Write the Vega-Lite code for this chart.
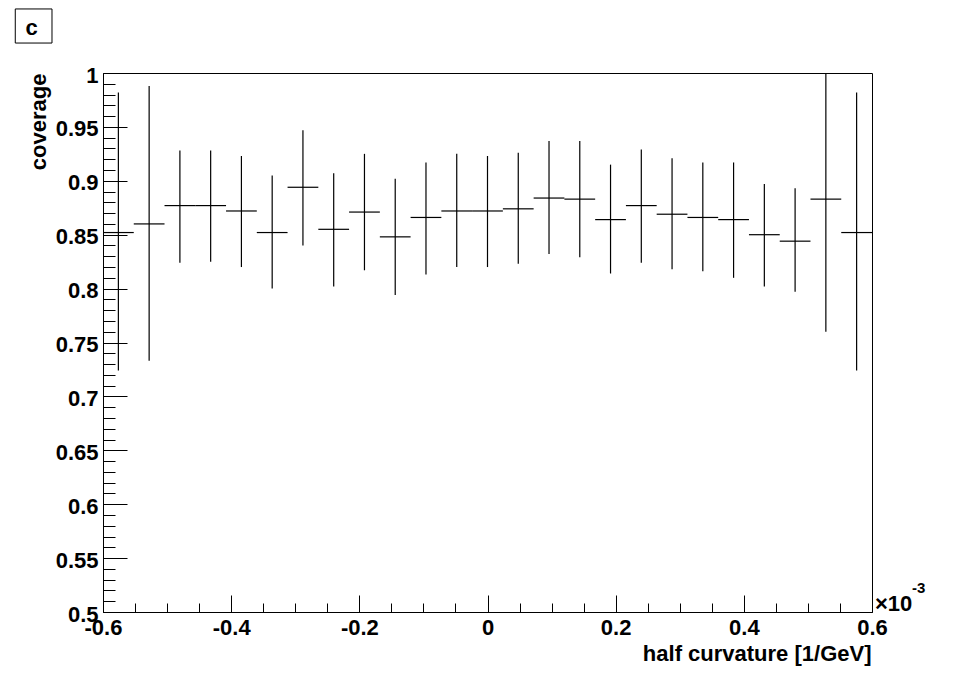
{
  "$schema": "https://vega.github.io/schema/vega-lite/v6.json",
  "width": 769,
  "height": 539,
  "autosize": {"type": "none"},
  "padding": {"left": 103, "top": 73, "right": 82, "bottom": 63},
  "background": "white",
  "config": {"view": {"stroke": "#000", "strokeWidth": 1}, "font": "Liberation Sans"},
  "data": {"values": [
    {"x": -0.576, "x0": -0.6, "x1": -0.552, "y": 0.852, "lo": 0.724, "hi": 0.982},
    {"x": -0.528, "x0": -0.552, "x1": -0.504, "y": 0.860, "lo": 0.733, "hi": 0.988},
    {"x": -0.48, "x0": -0.504, "x1": -0.456, "y": 0.877, "lo": 0.824, "hi": 0.928},
    {"x": -0.432, "x0": -0.456, "x1": -0.408, "y": 0.877, "lo": 0.825, "hi": 0.928},
    {"x": -0.384, "x0": -0.408, "x1": -0.36, "y": 0.872, "lo": 0.820, "hi": 0.923},
    {"x": -0.336, "x0": -0.36, "x1": -0.312, "y": 0.852, "lo": 0.800, "hi": 0.905},
    {"x": -0.288, "x0": -0.312, "x1": -0.264, "y": 0.894, "lo": 0.840, "hi": 0.947},
    {"x": -0.24, "x0": -0.264, "x1": -0.216, "y": 0.855, "lo": 0.802, "hi": 0.907},
    {"x": -0.192, "x0": -0.216, "x1": -0.168, "y": 0.871, "lo": 0.817, "hi": 0.925},
    {"x": -0.144, "x0": -0.168, "x1": -0.12, "y": 0.848, "lo": 0.794, "hi": 0.902},
    {"x": -0.096, "x0": -0.12, "x1": -0.072, "y": 0.866, "lo": 0.813, "hi": 0.917},
    {"x": -0.048, "x0": -0.072, "x1": -0.024, "y": 0.872, "lo": 0.820, "hi": 0.925},
    {"x": 0, "x0": -0.024, "x1": 0.024, "y": 0.872, "lo": 0.820, "hi": 0.923},
    {"x": 0.048, "x0": 0.024, "x1": 0.072, "y": 0.874, "lo": 0.823, "hi": 0.926},
    {"x": 0.096, "x0": 0.072, "x1": 0.12, "y": 0.884, "lo": 0.832, "hi": 0.937},
    {"x": 0.144, "x0": 0.12, "x1": 0.168, "y": 0.883, "lo": 0.829, "hi": 0.937},
    {"x": 0.192, "x0": 0.168, "x1": 0.216, "y": 0.864, "lo": 0.814, "hi": 0.915},
    {"x": 0.24, "x0": 0.216, "x1": 0.264, "y": 0.877, "lo": 0.824, "hi": 0.929},
    {"x": 0.288, "x0": 0.264, "x1": 0.312, "y": 0.869, "lo": 0.818, "hi": 0.921},
    {"x": 0.336, "x0": 0.312, "x1": 0.36, "y": 0.866, "lo": 0.816, "hi": 0.917},
    {"x": 0.384, "x0": 0.36, "x1": 0.408, "y": 0.864, "lo": 0.810, "hi": 0.917},
    {"x": 0.432, "x0": 0.408, "x1": 0.456, "y": 0.850, "lo": 0.802, "hi": 0.897},
    {"x": 0.48, "x0": 0.456, "x1": 0.504, "y": 0.844, "lo": 0.797, "hi": 0.893},
    {"x": 0.528, "x0": 0.504, "x1": 0.552, "y": 0.883, "lo": 0.760, "hi": 1.0},
    {"x": 0.576, "x0": 0.552, "x1": 0.6, "y": 0.852, "lo": 0.724, "hi": 0.982}
  ]},
  "resolve": {"axis": {"x": "independent", "y": "independent"}},
  "layer": [
    {
      "mark": {"type": "rule", "color": "#000", "strokeWidth": 1.2},
      "encoding": {
        "x": {
          "field": "x", "type": "quantitative",
          "scale": {"domain": [-0.6, 0.6], "nice": false, "zero": false},
          "axis": {
            "orient": "bottom",
            "values": [-0.6, -0.4, -0.2, 0, 0.2, 0.4, 0.6],
            "grid": false,
            "domain": true, "domainColor": "#000", "domainWidth": 1,
            "ticks": true, "tickSize": -17, "tickColor": "#000", "tickWidth": 1,
            "labelPadding": 22, "labelFontSize": 22, "labelFontWeight": "bold",
            "labelFont": "Liberation Sans", "labelColor": "#000",
            "labelFlush": false, "labelOverlap": false, "labelBaseline": "top",
            "labelExpr": "'' + datum.value",
            "title": "half curvature [1/GeV]",
            "titleFont": "Liberation Sans", "titleFontSize": 22, "titleFontWeight": "bold",
            "titleColor": "#000", "titleAlign": "right", "titleBaseline": "alphabetic",
            "titleX": 768, "titleY": 48
          }
        },
        "y": {
          "field": "lo", "type": "quantitative",
          "scale": {"domain": [0.5, 1], "nice": false, "zero": false},
          "axis": {
            "orient": "left",
            "values": [0.5, 0.55, 0.6, 0.65, 0.7, 0.75, 0.8, 0.85, 0.9, 0.95, 1],
            "grid": false,
            "domain": true, "domainColor": "#000", "domainWidth": 1,
            "ticks": true, "tickSize": -24, "tickColor": "#000", "tickWidth": 1,
            "labelPadding": 29, "labelFontSize": 22, "labelFontWeight": "bold",
            "labelFont": "Liberation Sans", "labelColor": "#000",
            "labelFlush": false, "labelOverlap": false, "labelBaseline": "middle",
            "labelAlign": "right", "labelOffset": 2,
            "labelExpr": "'' + datum.value",
            "title": "coverage",
            "titleFont": "Liberation Sans", "titleFontSize": 22, "titleFontWeight": "bold",
            "titleColor": "#000", "titleAngle": -90, "titleAlign": "right",
            "titleBaseline": "alphabetic", "titleX": -58, "titleY": 0
          }
        },
        "y2": {"field": "hi"}
      }
    },
    {
      "mark": {"type": "rule", "color": "#000", "strokeWidth": 1.2},
      "encoding": {
        "x": {
          "field": "x0", "type": "quantitative",
          "axis": {
            "orient": "bottom",
            "values": [-0.55, -0.5, -0.45, -0.35, -0.3, -0.25, -0.15, -0.1, -0.05, 0.05, 0.1, 0.15, 0.25, 0.3, 0.35, 0.45, 0.5, 0.55],
            "grid": false, "domain": false, "labels": false, "title": null,
            "ticks": true, "tickSize": -9, "tickColor": "#000", "tickWidth": 1
          }
        },
        "x2": {"field": "x1"},
        "y": {
          "field": "y", "type": "quantitative",
          "axis": {
            "orient": "left",
            "values": [0.51, 0.52, 0.53, 0.54, 0.56, 0.57, 0.58, 0.59, 0.61, 0.62, 0.63, 0.64, 0.66, 0.67, 0.68, 0.69, 0.71, 0.72, 0.73, 0.74, 0.76, 0.77, 0.78, 0.79, 0.81, 0.82, 0.83, 0.84, 0.86, 0.87, 0.88, 0.89, 0.91, 0.92, 0.93, 0.94, 0.96, 0.97, 0.98, 0.99],
            "grid": false, "domain": false, "labels": false, "title": null,
            "ticks": true, "tickSize": -12, "tickColor": "#000", "tickWidth": 1
          }
        }
      }
    },
    {
      "data": {"values": [{"label": "c"}]},
      "mark": {"type": "rect", "fill": "white", "stroke": "#000", "strokeWidth": 1},
      "encoding": {
        "x": {"datum": -0.7369, "type": "quantitative", "axis": null},
        "x2": {"datum": -0.6796},
        "y": {"datum": 1.0594, "type": "quantitative", "axis": null},
        "y2": {"datum": 1.0278}
      }
    },
    {
      "data": {"values": [{"label": "c"}]},
      "mark": {"type": "text", "font": "Liberation Sans", "fontSize": 22, "fontWeight": "bold", "color": "#000", "align": "center", "baseline": "middle"},
      "encoding": {
        "x": {"datum": -0.7113, "type": "quantitative", "axis": null},
        "y": {"datum": 1.0415, "type": "quantitative", "axis": null},
        "text": {"field": "label"}
      }
    },
    {
      "data": {"values": [{"label": "×10"}]},
      "mark": {"type": "text", "font": "Liberation Sans", "fontSize": 22, "fontWeight": "bold", "color": "#000", "align": "left", "baseline": "alphabetic", "dx": 3, "dy": -1},
      "encoding": {
        "x": {"datum": 0.6, "type": "quantitative", "axis": null},
        "y": {"datum": 0.5, "type": "quantitative", "axis": null},
        "text": {"field": "label"}
      }
    },
    {
      "data": {"values": [{"label": "-3"}]},
      "mark": {"type": "text", "font": "Liberation Sans", "fontSize": 15, "fontWeight": "bold", "color": "#000", "align": "left", "baseline": "alphabetic", "dx": 40, "dy": -19},
      "encoding": {
        "x": {"datum": 0.6, "type": "quantitative", "axis": null},
        "y": {"datum": 0.5, "type": "quantitative", "axis": null},
        "text": {"field": "label"}
      }
    }
  ]
}
